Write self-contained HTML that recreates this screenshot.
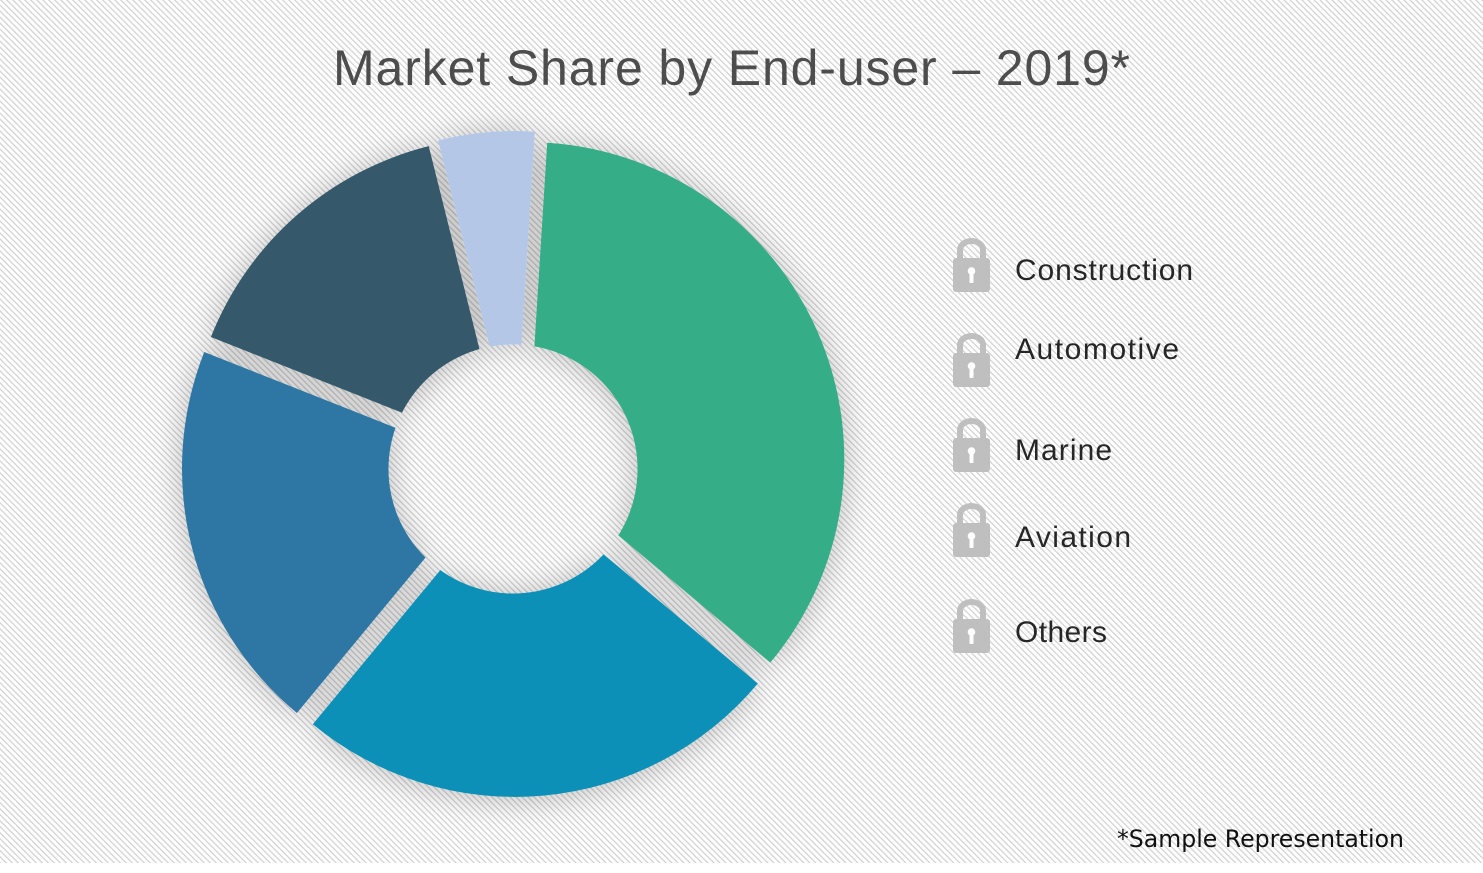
<!DOCTYPE html>
<html lang="en">
<head>
<meta charset="utf-8">
<title>Market Share by End-user – 2019</title>
<style>
html,body{margin:0;padding:0;background:#fff;width:1483px;height:873px;overflow:hidden}
svg{display:block}
</style>
</head>
<body>
<svg id="chart" xmlns="http://www.w3.org/2000/svg" width="1483" height="873" viewBox="0 0 1483 873">
  <defs>
    <pattern id="stripes" width="4.24" height="4.24" patternUnits="userSpaceOnUse" patternTransform="rotate(-45)">
      <rect width="4.24" height="4.24" fill="#ffffff"/>
      <rect width="1.2" height="4.24" fill="#d0d0d0"/>
    </pattern>
    <filter id="soft-shadow" x="-15%" y="-15%" width="130%" height="130%">
      <feDropShadow dx="0" dy="2" stdDeviation="17" flood-color="#000000" flood-opacity="0.26"/>
    </filter>
    <mask id="hole-mask" maskUnits="userSpaceOnUse" x="0" y="0" width="1483" height="873">
      <rect width="1483" height="873" fill="#fff"/>
      <circle cx="513" cy="469" r="124.5" fill="#000"/>
    </mask>
  </defs>

  <rect width="1483" height="863" fill="url(#stripes)"/>

  <text x="333" y="85" font-family="'Liberation Sans',sans-serif" font-size="50" fill="#4d4d4d" textLength="797" lengthAdjust="spacing">Market Share by End-user – 2019*</text>

  <g filter="url(#soft-shadow)"><g id="slices" mask="url(#hole-mask)"></g></g>

  <g>
    <g>
      <g transform="translate(0,0)">
        <path d="M960 260V250a11.500 9 0 0 1 23 0V260" fill="none" stroke="#bfbfbf" stroke-width="6"/>
        <rect x="953" y="258" width="37" height="34" rx="3" fill="#bfbfbf"/>
        <circle cx="971.500" cy="271" r="3.800" fill="#fff"/>
        <rect x="969.500" y="272" width="4" height="11" rx="1" fill="#fff"/>
      </g>
      <text x="1015" y="280" font-family="'Liberation Sans',sans-serif" font-size="30" fill="#262626" textLength="178" lengthAdjust="spacing">Construction</text>
    </g>
    <g>
      <g transform="translate(0,95)">
        <path d="M960 260V250a11.500 9 0 0 1 23 0V260" fill="none" stroke="#bfbfbf" stroke-width="6"/>
        <rect x="953" y="258" width="37" height="34" rx="3" fill="#bfbfbf"/>
        <circle cx="971.500" cy="271" r="3.800" fill="#fff"/>
        <rect x="969.500" y="272" width="4" height="11" rx="1" fill="#fff"/>
      </g>
      <text x="1015" y="359" font-family="'Liberation Sans',sans-serif" font-size="30" fill="#262626" textLength="164" lengthAdjust="spacing">Automotive</text>
    </g>
    <g>
      <g transform="translate(0,180)">
        <path d="M960 260V250a11.500 9 0 0 1 23 0V260" fill="none" stroke="#bfbfbf" stroke-width="6"/>
        <rect x="953" y="258" width="37" height="34" rx="3" fill="#bfbfbf"/>
        <circle cx="971.500" cy="271" r="3.800" fill="#fff"/>
        <rect x="969.500" y="272" width="4" height="11" rx="1" fill="#fff"/>
      </g>
      <text x="1015" y="460" font-family="'Liberation Sans',sans-serif" font-size="30" fill="#262626" textLength="97" lengthAdjust="spacing">Marine</text>
    </g>
    <g>
      <g transform="translate(0,265)">
        <path d="M960 260V250a11.500 9 0 0 1 23 0V260" fill="none" stroke="#bfbfbf" stroke-width="6"/>
        <rect x="953" y="258" width="37" height="34" rx="3" fill="#bfbfbf"/>
        <circle cx="971.500" cy="271" r="3.800" fill="#fff"/>
        <rect x="969.500" y="272" width="4" height="11" rx="1" fill="#fff"/>
      </g>
      <text x="1015" y="547" font-family="'Liberation Sans',sans-serif" font-size="30" fill="#262626" textLength="116" lengthAdjust="spacing">Aviation</text>
    </g>
    <g>
      <g transform="translate(0,361)">
        <path d="M960 260V250a11.500 9 0 0 1 23 0V260" fill="none" stroke="#bfbfbf" stroke-width="6"/>
        <rect x="953" y="258" width="37" height="34" rx="3" fill="#bfbfbf"/>
        <circle cx="971.500" cy="271" r="3.800" fill="#fff"/>
        <rect x="969.500" y="272" width="4" height="11" rx="1" fill="#fff"/>
      </g>
      <text x="1015" y="642" font-family="'Liberation Sans',sans-serif" font-size="30" fill="#262626" textLength="92" lengthAdjust="spacing">Others</text>
    </g>
  </g>

  <text x="1117" y="847" font-family="'DejaVu Sans',sans-serif" font-size="24" fill="#111111" textLength="287" lengthAdjust="spacingAndGlyphs">*Sample Representation</text>
</svg>
<script>
const categories = ['Construction', 'Automotive', 'Marine', 'Aviation', 'Others'];
const shareValues = [35.1, 24.9, 20, 15.1, 4.9];
const sliceColors = ['#35ae87', '#1190b7', '#2d77a4', '#34596b', '#b4c7e7'];
const sliceExplode = [15, 15, 15, 15, 17];
const sliceNudgeX = [0, 0, 0, 2, 3];

const NS = 'http://www.w3.org/2000/svg';
const centerX = 513.5, centerY = 465, outerRadius = 317, startDeg = 3.6;
const total = shareValues.reduce(function (a, b) { return a + b; }, 0);
function valueToAngle(v) { return v / total * 2 * Math.PI; }
function polar(cx, cy, r, a) { return [cx + r * Math.sin(a), cy - r * Math.cos(a)]; }

const slicesGroup = document.getElementById('slices');
let running = startDeg * Math.PI / 180;
shareValues.forEach(function (value, i) {
  const span = valueToAngle(value);
  const a0 = running, a1 = running + span, mid = running + span / 2;
  running = a1;
  const apex = polar(centerX + sliceNudgeX[i], centerY, sliceExplode[i], mid);
  const p0 = polar(apex[0], apex[1], outerRadius, a0);
  const p1 = polar(apex[0], apex[1], outerRadius, a1);
  const d = 'M' + apex[0] + ' ' + apex[1] + 'L' + p0[0] + ' ' + p0[1] +
    'A' + outerRadius + ' ' + outerRadius + ' 0 ' + (span > Math.PI ? 1 : 0) + ' 1 ' + p1[0] + ' ' + p1[1] + 'Z';
  const path = document.createElementNS(NS, 'path');
  path.setAttribute('d', d);
  path.setAttribute('fill', sliceColors[i]);
  
  
  slicesGroup.appendChild(path);
});
</script>
</body>
</html>
